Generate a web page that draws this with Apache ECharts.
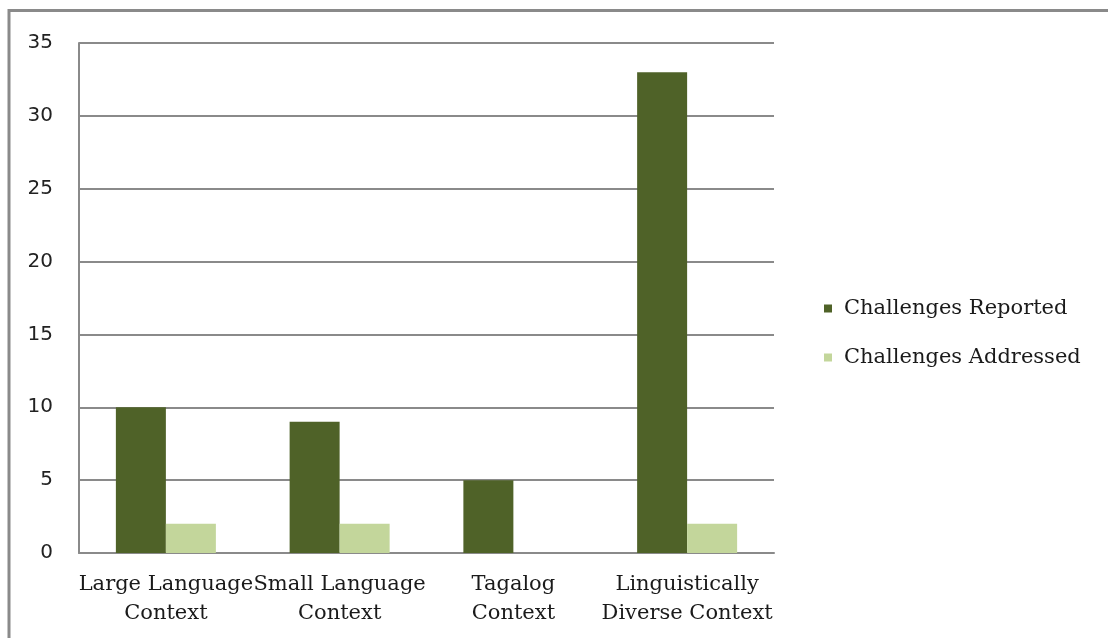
<!DOCTYPE html>
<html>
<head>
<meta charset="utf-8">
<script src="https://cdn.jsdelivr.net/npm/echarts@6/dist/echarts.min.js"></script>
<style>
  html, body { margin: 0; padding: 0; background: #fff; }
  #chart { width: 1108px; height: 638px; }
</style>
</head>
<body>
<div id="chart"></div>
<script>
// Categories and the two series of counts
const categories = [
  'Large Language\nContext',
  'Small Language\nContext',
  'Tagalog\nContext',
  'Linguistically\nDiverse Context'
];
const seriesNames = ['Challenges Reported', 'Challenges Addressed'];
const reported = [10, 9, 5, 33];
const addressed = [2, 2, 0, 2];
const yTicks = { min: 0, max: 35, interval: 5 };

const gridColor = '#8a8a8a';

const chart = echarts.init(document.getElementById('chart'));
chart.setOption({
  backgroundColor: '#ffffff',
  animation: false,
  graphic: [{
    type: 'rect',
    shape: { x: 9, y: 10.5, width: 1200, height: 700 },
    style: { fill: 'none', stroke: '#8a8a8a', lineWidth: 3 },
    silent: true
  }],
  grid: { left: 79, right: 334, top: 43, bottom: 85 },
  legend: {
    orient: 'vertical',
    left: 819,
    top: 291,
    itemWidth: 8,
    itemHeight: 8,
    itemGap: 24,
    icon: 'rect',
    textStyle: {
      fontFamily: 'DejaVu Serif',
      fontSize: 21,
      lineHeight: 25,
      color: '#1a1a1a',
      padding: [0, 0, 0, 7]
    },
    data: seriesNames
  },
  xAxis: {
    type: 'category',
    data: categories,
    axisLine: { show: true, lineStyle: { color: gridColor, width: 2 } },
    axisTick: { show: false },
    axisLabel: {
      interval: 0,
      margin: 17,
      fontFamily: 'DejaVu Serif',
      fontSize: 21,
      lineHeight: 29,
      color: '#1a1a1a'
    }
  },
  yAxis: {
    type: 'value',
    min: yTicks.min,
    max: yTicks.max,
    interval: yTicks.interval,
    axisLine: { show: true, lineStyle: { color: gridColor, width: 2 } },
    axisTick: { show: false },
    splitLine: { show: true, lineStyle: { color: gridColor, width: 2 } },
    axisLabel: {
      margin: 26,
      padding: [5, 0, 0, 0],
      fontFamily: 'DejaVu Sans',
      fontSize: 20,
      color: '#222222'
    }
  },
  series: [
    {
      name: seriesNames[0],
      type: 'bar',
      data: reported,
      barWidth: 50,
      barGap: '0%',
      itemStyle: { color: '#4f6228' }
    },
    {
      name: seriesNames[1],
      type: 'bar',
      data: addressed,
      barWidth: 50,
      itemStyle: { color: '#c3d69b' }
    }
  ]
});
</script>
</body>
</html>
